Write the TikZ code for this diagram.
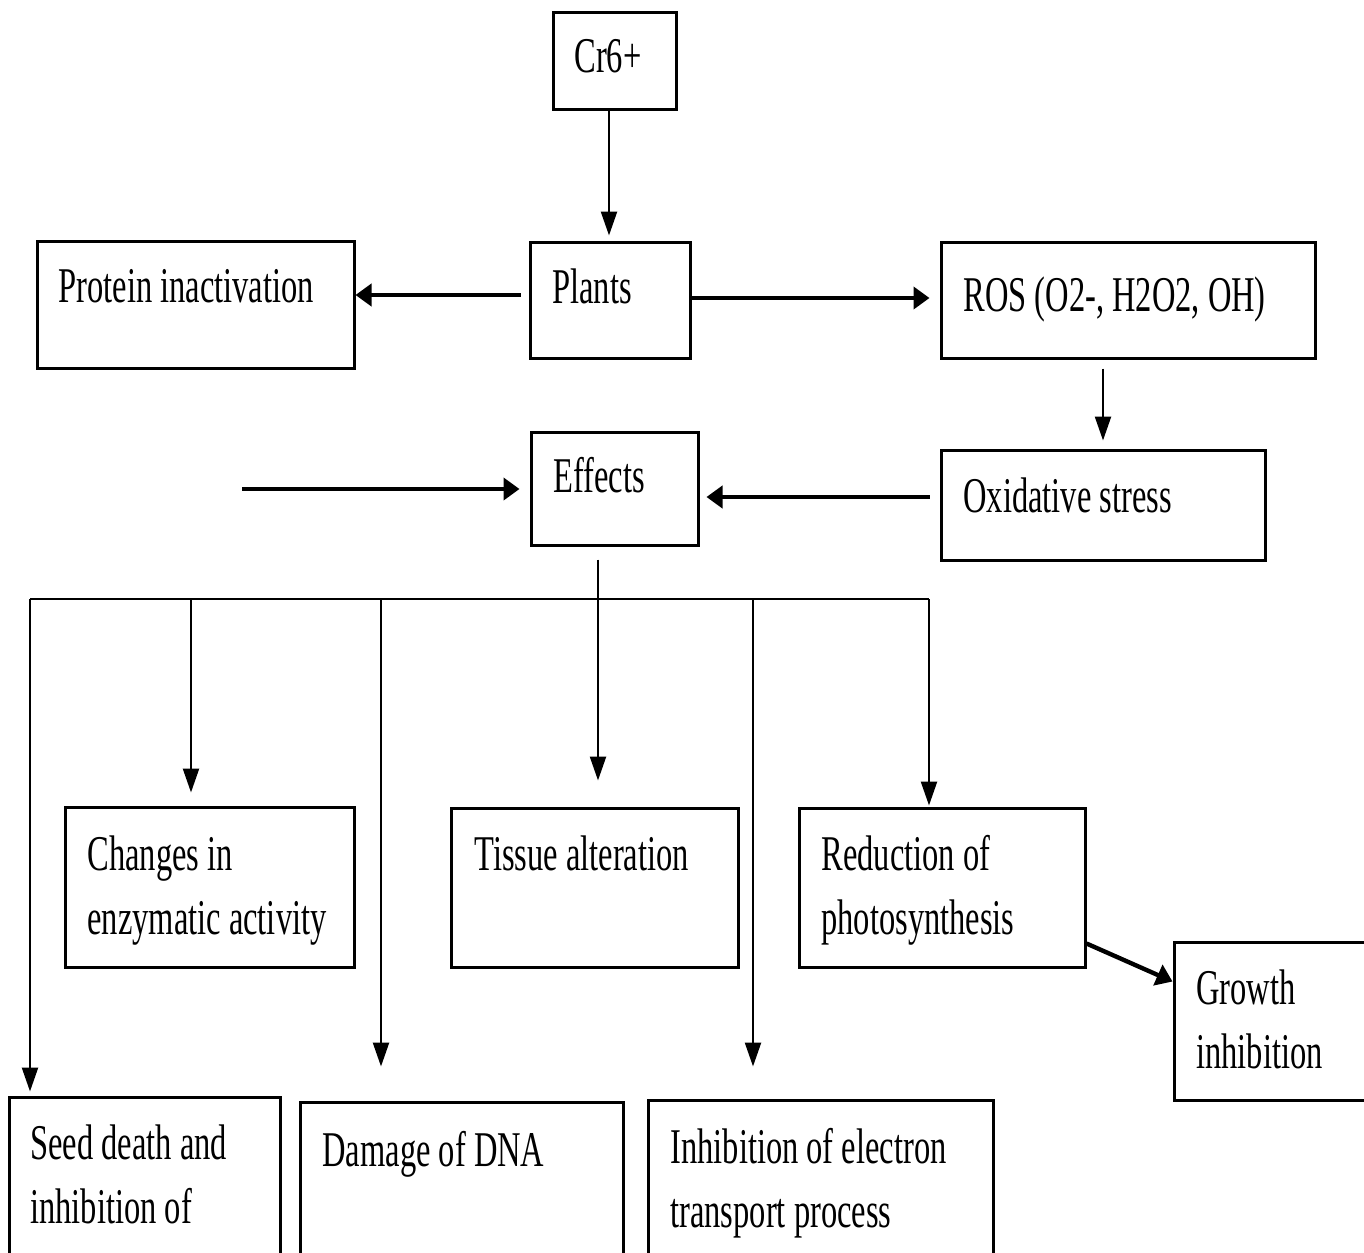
\documentclass[tikz,border=0pt]{standalone}
\usepackage{fontspec}
\setmainfont{Liberation Serif}[FakeStretch=0.65]
\usetikzlibrary{arrows.meta, fit, calc}
\tikzset{
  box/.style={draw, line width=1.5pt, inner sep=0pt, fit={#1}},
  txt/.style={font=\fontsize{25pt}{32pt}\selectfont, anchor=base west, inner sep=0pt, align=left},
  arrow/.style={-{Triangle[length=8pt, width=11pt]}, line width=2.2pt},
  link/.style={-{Triangle[length=12pt, width=8pt]}, line width=1.2pt},
  bus/.style={line width=1.3pt},
}
\begin{document}
\begin{tikzpicture}[x=0.5pt, y=-0.5pt]
  % page in pixels of the scan, y grows downwards
  \useasboundingbox (0,0) rectangle (1364,1252);
  \clip (0,0) rectangle (1364,1252);
  % boxes
  \node[box={(553,13) (676,110)}] (cr) {};
  \node[box={(530,242) (690,358)}] (plants) {};
  \node[box={(37,241) (354,368)}] (protein) {};
  \node[box={(941,242) (1315,358)}] (ros) {};
  \node[box={(941,450) (1265,560)}] (ox) {};
  \node[box={(531,432) (698,545)}] (effects) {};
  \node[box={(65,807) (354,967)}] (changes) {};
  \node[box={(451,808) (738,967)}] (tissue) {};
  \node[box={(799,808) (1085,967)}] (reduc) {};
  \node[box={(1174,942) (1390,1100)}] (growth) {};
  \node[box={(9,1097) (280,1280)}] (seed) {};
  \node[box={(300,1102) (623,1280)}] (damage) {};
  \node[box={(648,1100) (993,1280)}] (inhib) {};
  % texts, left aligned near the top of each box (base = last line)
  \node[txt] (crT) at (574,73) {Cr6+};
  \node[txt] (proteinT) at (58,302) {Protein inactivation};
  \node[txt] (plantsT) at (552,303) {Plants};
  \node[txt] (rosT) at (963,311) {ROS (O2-, H2O2, OH)};
  \node[txt] (oxT) at (963,512) {Oxidative stress};
  \node[txt] (effectsT) at (553,492) {Effects};
  \node[txt] (changesT) at (87,934) {Changes in\\enzymatic activity};
  \node[txt] (tissueT) at (474,870) {Tissue alteration};
  \node[txt] (reducT) at (821,934) {Reduction of\\photosynthesis};
  \node[txt] (growthT) at (1196,1068) {Growth\\inhibition};
  \node[txt] (seedT) at (30,1223) {Seed death and\\inhibition of};
  \node[txt] (damageT) at (322,1166) {Damage of DNA};
  \node[txt] (inhibT) at (670,1227) {Inhibition of electron\\transport process};
  % upper chain
  \draw[link, shorten >=2.5pt] ([xshift=-2.75pt]cr.south) -- ([xshift=-2.75pt]cr.south |- plants.north);
  \draw[arrow, shorten <=4pt] ([yshift=2.5pt]plants.west) -- ([yshift=2.5pt]plants.west -| protein.east);
  \draw[arrow, shorten >=5pt] ([yshift=1pt]plants.east) -- ([yshift=1pt]plants.east -| ros.west);
  \draw[link, shorten <=4.5pt, shorten >=4pt] (ros.south -| ox.center) -- (ox.north);
  \draw[arrow, shorten <=5pt, shorten >=3.5pt] ([yshift=4pt]ox.west) -- ([yshift=4pt]ox.west -| effects.east);
  \coordinate (inflow) at (242,489);
  \draw[arrow, shorten >=5pt] (inflow) -- (inflow -| effects.west);
  \draw[link, shorten <=6.5pt, shorten >=13pt] ([xshift=-8.25pt]effects.south) -- ([xshift=-8.25pt]effects.south |- tissue.north);
  % effects bus and branches
  \coordinate (busL) at (30,599);
  \coordinate (busR) at (929,599);
  \draw[bus] (busL) -- (busR);
  \foreach \x/\t/\gap in {30/seed/2pt, 191/changes/6.5pt, 381/damage/17pt, 753/inhib/16pt, 929/reduc/0.5pt} {
    \coordinate (b-\t) at (\x,599);
    \draw[link, shorten >=\gap] (b-\t) -- (b-\t |- \t.north);
  }
  \draw[arrow] ([yshift=12.5pt]reduc.south east) -- ([yshift=-20.5pt]growth.north west);
\end{tikzpicture}
\end{document}
